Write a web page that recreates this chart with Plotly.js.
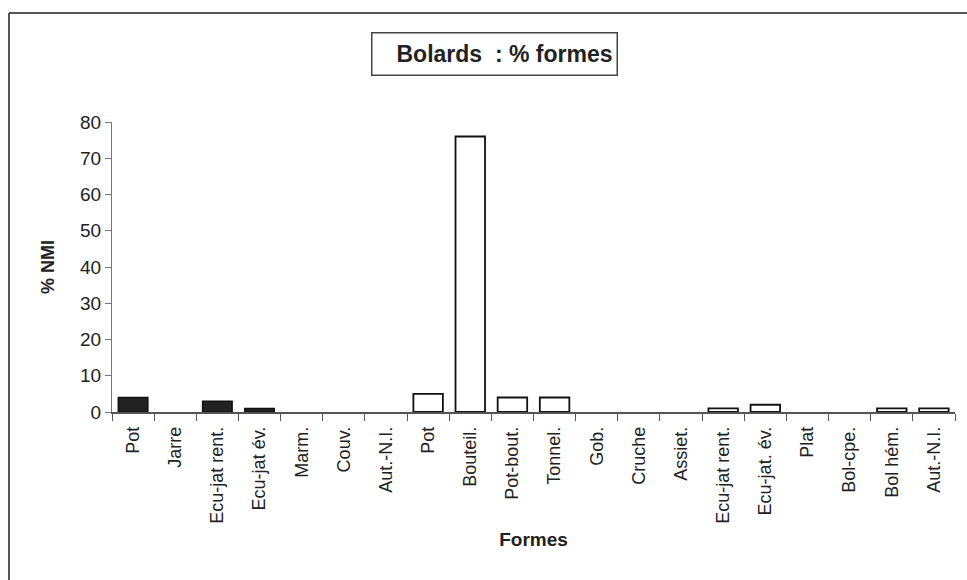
<!DOCTYPE html>
<html>
<head>
<meta charset="utf-8">
<script src="https://cdn.plot.ly/plotly-3.0.1.min.js"></script>
<style>
  html, body { margin: 0; padding: 0; background: #fff; }
  #chart { width: 967px; height: 580px; }
</style>
</head>
<body>
<div id="chart"></div>
<script>
// ---- data ----
const categories = ["Pot", "Jarre", "Ecu-jat rent.", "Ecu-jat év.", "Marm.", "Couv.", "Aut.-N.I.",
                    "Pot", "Bouteil.", "Pot-bout.", "Tonnel.", "Gob.", "Cruche", "Assiet.",
                    "Ecu-jat rent.", "Ecu-jat. év.", "Plat", "Bol-cpe.", "Bol hém.", "Aut.-N.I."];
const group1Labels = ["Pot", "Jarre", "Ecu-jat rent.", "Ecu-jat év.", "Marm.", "Couv.", "Aut.-N.I."];
const group1Values = [4, 0, 3, 1, 0, 0, 0];
const group2Labels = ["Pot", "Bouteil.", "Pot-bout.", "Tonnel.", "Gob.", "Cruche", "Assiet.",
                      "Ecu-jat rent.", "Ecu-jat. év.", "Plat", "Bol-cpe.", "Bol hém.", "Aut.-N.I."];
const group2Values = [5, 76, 4, 4, 0, 0, 0, 1, 2, 0, 0, 1, 1];
const yTicks = [0, 10, 20, 30, 40, 50, 60, 70, 80];

// ---- layout geometry ----
const W = 967, H = 580;
const M = { l: 112, r: 12, t: 122, b: 168 };
const pw = W - M.l - M.r, ph = H - M.t - M.b;
const px2x = p => (p - M.l) / pw;
const px2y = p => (H - M.b - p) / ph;

const idx1 = group1Labels.map((_, i) => i);
const idx2 = group2Labels.map((_, i) => i + group1Labels.length);
const font = "Liberation Sans, Arial, sans-serif";
// no outline drawn for empty (zero) bars
const outline = (vals, w) => vals.map(v => (v > 0 ? w : 0));

const traces = [
  { type: "bar", x: idx1, y: group1Values, width: 0.7,
    marker: { color: "#222", line: { color: "#111", width: outline(group1Values, 1.5) } },
    hoverinfo: "x+y", showlegend: false },
  { type: "bar", x: idx2, y: group2Values, width: 0.7,
    marker: { color: "#fff", line: { color: "#111", width: outline(group2Values, 1.8) } },
    hoverinfo: "x+y", showlegend: false }
];

const layout = {
  width: W, height: H,
  margin: M,
  paper_bgcolor: "#fff", plot_bgcolor: "#fff",
  font: { family: font, color: "#222", size: 18 },
  showlegend: false,
  xaxis: {
    range: [-0.5, categories.length - 0.5],
    tickmode: "array",
    tickvals: categories.map((_, i) => i),
    ticktext: categories,
    tickangle: -90,
    ticks: "",
    ticklabelstandoff: 6,
    showgrid: false, zeroline: false,
    showline: true, linecolor: "#555", linewidth: 1.5,
    minor: { tick0: -0.5, dtick: 1, ticks: "outside", ticklen: 7, tickcolor: "#555", tickwidth: 1, showgrid: false },
    tickfont: { size: 18, family: font, color: "#222" },
    automargin: false,
    title: { text: "<b>Formes</b>", font: { size: 19, family: font, color: "#222" }, standoff: 10 }
  },
  yaxis: {
    range: [0, 80],
    tickmode: "array",
    tickvals: yTicks,
    ticks: "outside", ticklen: 6, tickcolor: "#777", tickwidth: 1,
    showgrid: false, zeroline: false,
    showline: true, linecolor: "#777", linewidth: 1,
    tickfont: { size: 19, family: font, color: "#222" },
    automargin: false,
    title: { text: "<b>% NMI</b>", font: { size: 18, family: font, color: "#222" }, standoff: 20 }
  },
  bargap: 0.3,
  annotations: [{
    xref: "paper", yref: "paper",
    x: px2x(494.5), y: px2y(53.5),
    xanchor: "center", yanchor: "middle",
    text: "<b>Bolards  : % formes</b>",
    showarrow: false,
    align: "right",
    font: { size: 23, family: font, color: "#222" },
    bordercolor: "#444", borderwidth: 1.5, borderpad: 4,
    bgcolor: "#fff",
    width: 236, height: 33
  }],
  shapes: [
    { type: "line", xref: "paper", yref: "paper",
      x0: px2x(9), x1: px2x(W + 5), y0: px2y(13), y1: px2y(13),
      line: { color: "#555", width: 2 } },
    { type: "line", xref: "paper", yref: "paper",
      x0: px2x(9), x1: px2x(9), y0: px2y(13), y1: px2y(H + 5),
      line: { color: "#555", width: 2 } }
  ]
};

Plotly.newPlot("chart", traces, layout, { displayModeBar: false, staticPlot: true });
</script>
</body>
</html>
